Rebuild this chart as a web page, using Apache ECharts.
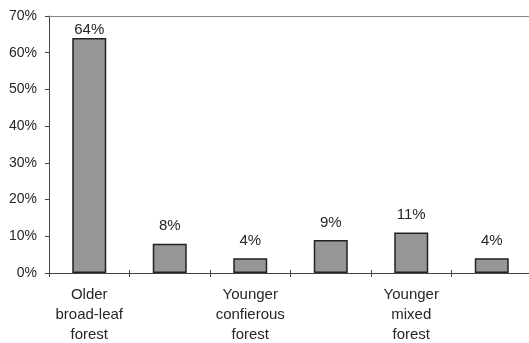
<!DOCTYPE html>
<html>
<head>
<meta charset="utf-8">
<script src="https://cdn.jsdelivr.net/npm/echarts@6/dist/echarts.min.js"></script>
<style>
  html, body { margin: 0; padding: 0; background: #fff; }
  #chart { width: 529px; height: 343px; }
</style>
</head>
<body>
<div id="chart"></div>
<script>
// Forest-type shares, six groups; only every other group carries a caption
const categories = [
  'Older\nbroad-leaf\nforest', '',
  'Younger\nconfierous\nforest', '',
  'Younger\nmixed\nforest', ''
];
const shares = [64, 8, 4, 9, 11, 4];
const yTicks = [0, 10, 20, 30, 40, 50, 60, 70];

const textColor = '#262626';
const fontFamily = '"Liberation Sans", Arial, sans-serif';
const yMax = yTicks[yTicks.length - 1];

// labels of tall bars are pulled down so they stay inside the plot frame
const barData = shares.map(v => (
  v > yMax - 10 ? { value: v, label: { distance: 1 } } : v
));

const chart = echarts.init(document.getElementById('chart'));
chart.setOption({
  animation: false,
  backgroundColor: '#fff',
  grid: {
    left: 49, top: 16, width: 483, height: 257,
    containLabel: false,
    outerBoundsMode: 'none'
  },
  xAxis: [
    {
      type: 'category',
      data: categories,
      axisLine: { lineStyle: { color: '#444', width: 1 } },
      axisTick: { show: true, length: 4, lineStyle: { color: '#444' } },
      axisLabel: {
        interval: 0,
        color: textColor,
        fontFamily: fontFamily,
        fontSize: 15,
        lineHeight: 20,
        margin: 12
      }
    },
    {
      // same axis, ticks drawn inward so they cross the baseline
      type: 'category',
      data: categories,
      position: 'bottom',
      axisLine: { show: false },
      axisTick: { show: true, inside: true, length: 3, lineStyle: { color: '#444' } },
      axisLabel: { show: false }
    },
    {
      // frame line along the top of the plot
      type: 'category',
      data: categories,
      position: 'top',
      axisLine: { lineStyle: { color: '#888', width: 1 } },
      axisTick: { show: false },
      axisLabel: { show: false }
    }
  ],
  yAxis: {
    type: 'value',
    min: yTicks[0],
    max: yMax,
    interval: 10,
    splitLine: { show: false },
    axisLine: { show: true, lineStyle: { color: '#444', width: 1 } },
    axisTick: { show: true, length: 4, lineStyle: { color: '#444' } },
    axisLabel: {
      formatter: v => v + '%',
      color: textColor,
      fontFamily: fontFamily,
      fontSize: 14,
      margin: 12
    }
  },
  series: [{
    type: 'bar',
    data: barData,
    barWidth: 34,
    itemStyle: {
      color: '#969696',
      borderColor: '#222',
      borderWidth: 1.5
    },
    label: {
      show: true,
      position: 'top',
      distance: 10,
      formatter: p => p.value + '%',
      color: textColor,
      fontFamily: fontFamily,
      fontSize: 15
    }
  }]
});
</script>
</body>
</html>
